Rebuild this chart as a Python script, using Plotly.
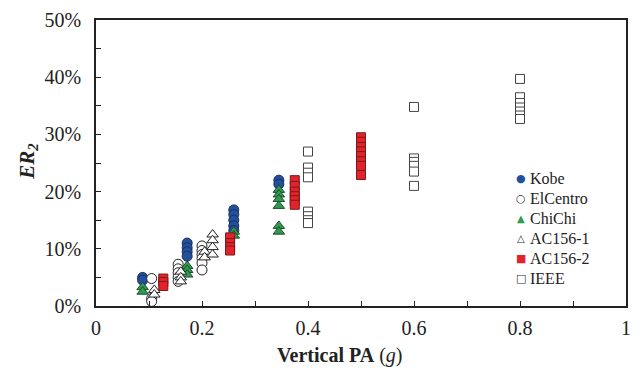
import plotly.graph_objects as go

# Data (x: vertical PA in g, y: ER2 in %)
kobe_x = [0.088, 0.088, 0.172, 0.172, 0.172, 0.172, 0.26, 0.26, 0.26, 0.26, 0.26, 0.345, 0.345]
kobe_y = [5.0, 4.5, 11.0, 10.2, 9.5, 8.7, 16.8, 16.0, 15.0, 14.0, 13.2, 22.0, 21.3]

elcentro_x = [0.105, 0.105, 0.105, 0.155, 0.155, 0.155, 0.155, 0.155, 0.2, 0.2, 0.2, 0.2, 0.2, 0.2]
elcentro_y = [4.8, 1.3, 0.8, 7.3, 6.5, 5.8, 5.0, 4.3, 10.5, 9.7, 9.0, 8.3, 7.5, 6.3]

chichi_x = [0.088, 0.088, 0.172, 0.172, 0.172, 0.26, 0.26, 0.345, 0.345, 0.345, 0.345, 0.345, 0.345]
chichi_y = [3.3, 2.5, 7.0, 6.3, 5.5, 13.0, 12.3, 20.3, 19.5, 18.7, 17.5, 14.0, 13.0]

ac1561_x = [0.11, 0.11, 0.16, 0.16, 0.16, 0.205, 0.205, 0.22, 0.22, 0.22, 0.22]
ac1561_y = [2.8, 2.0, 6.0, 5.0, 4.3, 9.5, 8.5, 12.5, 11.5, 10.3, 9.0]

ac1562_x = [0.127, 0.127, 0.127, 0.253, 0.253, 0.253, 0.253,
            0.375, 0.375, 0.375, 0.375, 0.375, 0.375,
            0.5, 0.5, 0.5, 0.5, 0.5, 0.5, 0.5, 0.5]
ac1562_y = [4.8, 4.2, 3.5, 12.0, 11.0, 10.3, 9.7,
            22.0, 21.0, 20.0, 19.2, 18.5, 17.7,
            29.5, 28.7, 27.8, 27.0, 26.2, 25.3, 24.5, 22.9]

ieee_x = [0.4] * 8 + [0.6] * 6 + [0.8] * 7
ieee_y = [27.0, 24.2, 23.3, 22.5, 16.5, 15.7, 15.0, 14.5,
          34.8, 25.8, 25.2, 24.5, 23.5, 21.0,
          39.7, 36.5, 35.5, 34.7, 34.0, 33.3, 32.7]

x_ticks = [0, 0.2, 0.4, 0.6, 0.8, 1]
x_ticklabels = ["0", "0.2", "0.4", "0.6", "0.8", "1"]
y_ticks = [0, 10, 20, 30, 40, 50]
y_ticklabels = ["0%", "10%", "20%", "30%", "40%", "50%"]

series_names = ["Kobe", "ElCentro", "ChiChi", "AC156-1", "AC156-2", "IEEE"]
legend_glyphs = ["●", "○", "▲", "△", "■", "□"]
legend_glyph_sizes = [11, 11, 10, 10, 11, 11]

SERIF = "Liberation Serif"
TXT = "#222222"

styles = [
    ("circle", "#23509e", "#1a2f5a", 10),
    ("circle", "white", "#222222", 10),
    ("triangle-up", "#2f9a50", "#1d4d2a", 10),
    ("triangle-up", "white", "#222222", 10),
    ("square", "#e3232b", "#7a1a1a", 9),
    ("square", "white", "#444444", 9),
]
legend_colors = ["#23509e", "#333333", "#2f9a50", "#333333", "#e3232b", "#333333"]
xs_all = [kobe_x, elcentro_x, chichi_x, ac1561_x, ac1562_x, ieee_x]
ys_all = [kobe_y, elcentro_y, chichi_y, ac1561_y, ac1562_y, ieee_y]

fig = go.Figure()
for name, xs, ys, (sym, fill, lc, sz) in zip(series_names, xs_all, ys_all, styles):
    fig.add_trace(go.Scatter(
        x=xs, y=ys, mode="markers", name=name, showlegend=False,
        marker=dict(symbol=sym, color=fill, size=sz, line=dict(color=lc, width=1)),
    ))

annotations = [
    dict(text="<b>Vertical PA</b> (<i>g</i>)", xref="paper", yref="paper",
         x=(342 - 96) / 535, y=(306 - 355) / 286, xanchor="center", yanchor="middle",
         showarrow=False, font=dict(family=SERIF, size=20, color=TXT)),
    dict(text="<b><i>ER</i></b><sub><b><i>2</i></b></sub>", xref="paper", yref="paper",
         x=(27 - 96) / 535, y=(306 - 162) / 286, xanchor="center", yanchor="middle",
         textangle=-90, showarrow=False,
         font=dict(family=SERIF, size=21, color=TXT)),
]

# legend drawn as text entries: glyph + name
for i, (name, g, c, gs) in enumerate(zip(series_names, legend_glyphs, legend_colors, legend_glyph_sizes)):
    ypx = 178 + 20 * i
    annotations.append(dict(
        text=g, xref="paper", yref="paper",
        x=(525 - 96) / 535, y=(306 - ypx) / 286, xanchor="center", yanchor="middle",
        showarrow=False, font=dict(family="DejaVu Sans", size=gs, color=c),
    ))
    annotations.append(dict(
        text=name, xref="paper", yref="paper",
        x=(532 - 96) / 535, y=(306 - ypx) / 286, xanchor="left", yanchor="middle",
        showarrow=False, font=dict(family=SERIF, size=16, color=TXT),
    ))

fig.update_layout(
    width=640, height=372,
    margin=dict(l=96, r=9, t=20, b=66),
    paper_bgcolor="white", plot_bgcolor="white",
    font=dict(family=SERIF, color=TXT, size=20),
    showlegend=False,
    xaxis=dict(
        range=[0, 1], tickvals=x_ticks, ticktext=x_ticklabels,
        showgrid=False, zeroline=False,
        showline=True, linecolor=TXT, linewidth=1.5, mirror=True,
        ticks="inside", ticklen=5, tickcolor=TXT, tickwidth=1.2,
        minor=dict(dtick=0.1, ticks="inside", ticklen=5, tickcolor=TXT, tickwidth=1.2),
        tickfont=dict(family=SERIF, size=20, color=TXT),
        ticklabelstandoff=3,
    ),
    yaxis=dict(
        range=[0, 50], tickvals=y_ticks, ticktext=y_ticklabels,
        showgrid=False, zeroline=False,
        showline=True, linecolor=TXT, linewidth=1.5, mirror=True,
        ticks="inside", ticklen=5, tickcolor=TXT, tickwidth=1.2,
        minor=dict(dtick=5, ticks="inside", ticklen=5, tickcolor=TXT, tickwidth=1.2),
        tickfont=dict(family=SERIF, size=20, color=TXT),
        ticklabelstandoff=9,
    ),
    annotations=annotations,
)

fig.write_html("out.html")
